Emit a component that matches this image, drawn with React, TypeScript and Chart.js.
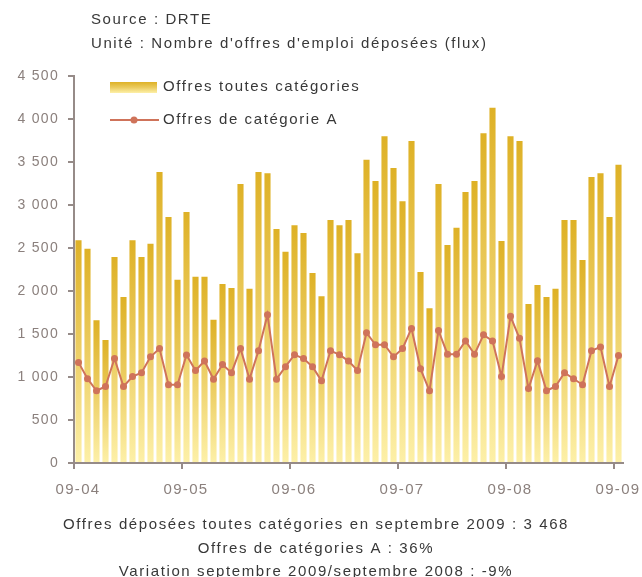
import { useEffect, useRef } from 'react';
import { Chart, registerables } from 'chart.js';

Chart.register(...registerables);

const yearLabels = ['09-04', '09-05', '09-06', '09-07', '09-08', '09-09'];

const offresToutes = [
  2590, 2490, 1660, 1430, 2395, 1930, 2590, 2395, 2550, 3385, 2860, 2130,
  2920, 2165, 2165, 1665, 2080, 2035, 3245, 2025, 3385, 3370, 2720, 2455,
  2765, 2675, 2210, 1940, 2825, 2765, 2825, 2440, 3525, 3280, 3800, 3430,
  3045, 3745, 2220, 1800, 3245, 2535, 2735, 3150, 3280, 3835, 4130, 2580,
  3800, 3745, 1850, 2070, 1930, 2025, 2825, 2825, 2360, 3325, 3370, 2860,
  3468,
];

const offresCatA = [
  1170, 980, 840, 890, 1215, 890, 1005, 1050, 1235, 1330, 910, 910,
  1255, 1075, 1185, 975, 1145, 1050, 1330, 975, 1305, 1725, 975, 1120,
  1260, 1215, 1120, 955, 1305, 1260, 1185, 1075, 1515, 1375, 1375, 1235,
  1330, 1565, 1095, 840, 1540, 1265, 1265, 1420, 1265, 1490, 1420, 1005,
  1705, 1450, 865, 1190, 840, 890, 1050, 980, 910, 1305, 1350, 890,
  1250,
];

const seriesNames = ['Offres toutes catégories', 'Offres de catégorie A'];
const headerLines = ['Source : DRTE', "Unité : Nombre d'offres d'emploi déposées (flux)"];
const footerLines = [
  'Offres déposées toutes catégories en septembre 2009 : 3 468',
  'Offres de catégories A : 36%',
  'Variation septembre 2009/septembre 2008 : -9%',
];

const FONT = '"Liberation Sans", Arial, sans-serif';
const AXIS = '#968b88';
const TICK_TEXT = '#8b807d';
const TEXT = '#383838';
const LINE = '#cf735a';
const BAR_TOP = '#deb126';
const BAR_MID = '#ebcb5e';
const BAR_BOT = '#fdf0a8';

function fmt(v: number) {
  const s = String(Math.round(v));
  return s.replace(/\B(?=(\d{3})+(?!\d))/g, ' ');
}

export default function App() {
  const ref = useRef<HTMLCanvasElement>(null);

  useEffect(() => {
    const canvas = ref.current!;
    const textPlugin = {
      id: 'texts',
      beforeDraw(chart: any) {
        chart.ctx.letterSpacing = '1.3px';
      },
      afterDraw(chart: any) {
        const ctx = chart.ctx as CanvasRenderingContext2D;
        ctx.save();
        (ctx as any).letterSpacing = '1.6px';
        ctx.font = `15px ${FONT}`;
        ctx.fillStyle = TEXT;
        ctx.textBaseline = 'middle';
        ctx.textAlign = 'left';
        ctx.fillText(headerLines[0], 91, 20);
        ctx.fillText(headerLines[1], 91, 44);

        // legend
        const g = ctx.createLinearGradient(0, 82, 0, 93);
        g.addColorStop(0, BAR_TOP);
        g.addColorStop(0.5, BAR_MID);
        g.addColorStop(1, BAR_BOT);
        ctx.fillStyle = g;
        ctx.fillRect(110, 82, 47, 11);
        ctx.strokeStyle = LINE;
        ctx.lineWidth = 2;
        ctx.beginPath();
        ctx.moveTo(110, 120);
        ctx.lineTo(159, 120);
        ctx.stroke();
        ctx.fillStyle = LINE;
        ctx.beginPath();
        ctx.arc(134, 120, 3.5, 0, Math.PI * 2);
        ctx.fill();
        ctx.fillStyle = TEXT;
        ctx.fillText(seriesNames[0], 163, 87);
        ctx.fillText(seriesNames[1], 163, 120);

        ctx.textAlign = 'center';
        ctx.fillText(footerLines[0], 316, 525);
        ctx.fillText(footerLines[1], 316, 549);
        ctx.fillText(footerLines[2], 316, 572);
        ctx.restore();
      },
    };

    const chart = new Chart(canvas, {
      type: 'bar',
      data: {
        datasets: [
          {
            type: 'line',
            label: seriesNames[1],
            data: offresCatA.map((v, i) => ({ x: i + 0.5, y: v })),
            borderColor: LINE,
            backgroundColor: LINE,
            borderWidth: 2,
            pointRadius: 3.5,
            pointBorderWidth: 0,
            pointBackgroundColor: LINE,
            tension: 0,
            order: 0,
          } as any,
          {
            type: 'bar',
            label: seriesNames[0],
            data: offresToutes.map((v, i) => ({ x: i + 0.5, y: v })),
            barPercentage: 0.68,
            categoryPercentage: 1,
            borderWidth: 0,
            order: 1,
            backgroundColor: (c: any) => {
              const ch = c.chart;
              if (!ch.chartArea || c.type !== 'data') return BAR_TOP;
              const ys = ch.scales.y;
              const v = offresToutes[c.dataIndex];
              const gr = ch.ctx.createLinearGradient(0, ys.getPixelForValue(v), 0, ys.getPixelForValue(0));
              gr.addColorStop(0, BAR_TOP);
              gr.addColorStop(0.45, BAR_MID);
              gr.addColorStop(1, BAR_BOT);
              return gr;
            },
          } as any,
        ],
      },
      options: {
        responsive: false,
        animation: false,
        layout: { padding: { top: 76, right: 19, bottom: 74, left: 0 } },
        plugins: {
          legend: { display: false },
          tooltip: { enabled: false },
        },
        scales: {
          x: {
            type: 'linear',
            offset: false,
            min: 0,
            max: offresToutes.length,
            bounds: 'data',
            afterFit: (s: any) => {
              s.height = 40;
              s.paddingLeft = 0;
              s.paddingRight = 0;
            },
            afterBuildTicks: (s: any) => {
              s.ticks = yearLabels.map((_, i) => ({ value: i * 12 }));
            },
            ticks: {
              autoSkip: false,
              maxRotation: 0,
              labelOffset: 4,
              padding: 12,
              color: TICK_TEXT,
              font: { family: FONT, size: 15 },
              callback: (v: any) => yearLabels[Math.round(Number(v) / 12)] ?? '',
            },
            grid: {
              offset: false,
              drawOnChartArea: false,
              drawTicks: true,
              tickLength: 6,
              color: AXIS,
              lineWidth: 2,
            },
            border: { display: true, color: AXIS, width: 2 },
          },
          y: {
            min: 0,
            max: 4500,
            afterFit: (s: any) => {
              s.width = 74;
            },
            ticks: {
              stepSize: 500,
              padding: 9,
              color: TICK_TEXT,
              font: { family: FONT, size: 14 },
              callback: (v: any) => fmt(Number(v)),
            },
            grid: {
              drawOnChartArea: false,
              drawTicks: true,
              tickLength: 6,
              color: AXIS,
              lineWidth: 2,
            },
            border: { display: true, color: AXIS, width: 2 },
          },
        },
      } as any,
      plugins: [textPlugin],
    });
    return () => chart.destroy();
  }, []);

  return (
    <div style={{ position: 'absolute', left: 0, top: 0, width: 642, height: 577, background: '#fff' }}>
      <canvas ref={ref} width={642} height={577} style={{ display: 'block' }} />
    </div>
  );
}
